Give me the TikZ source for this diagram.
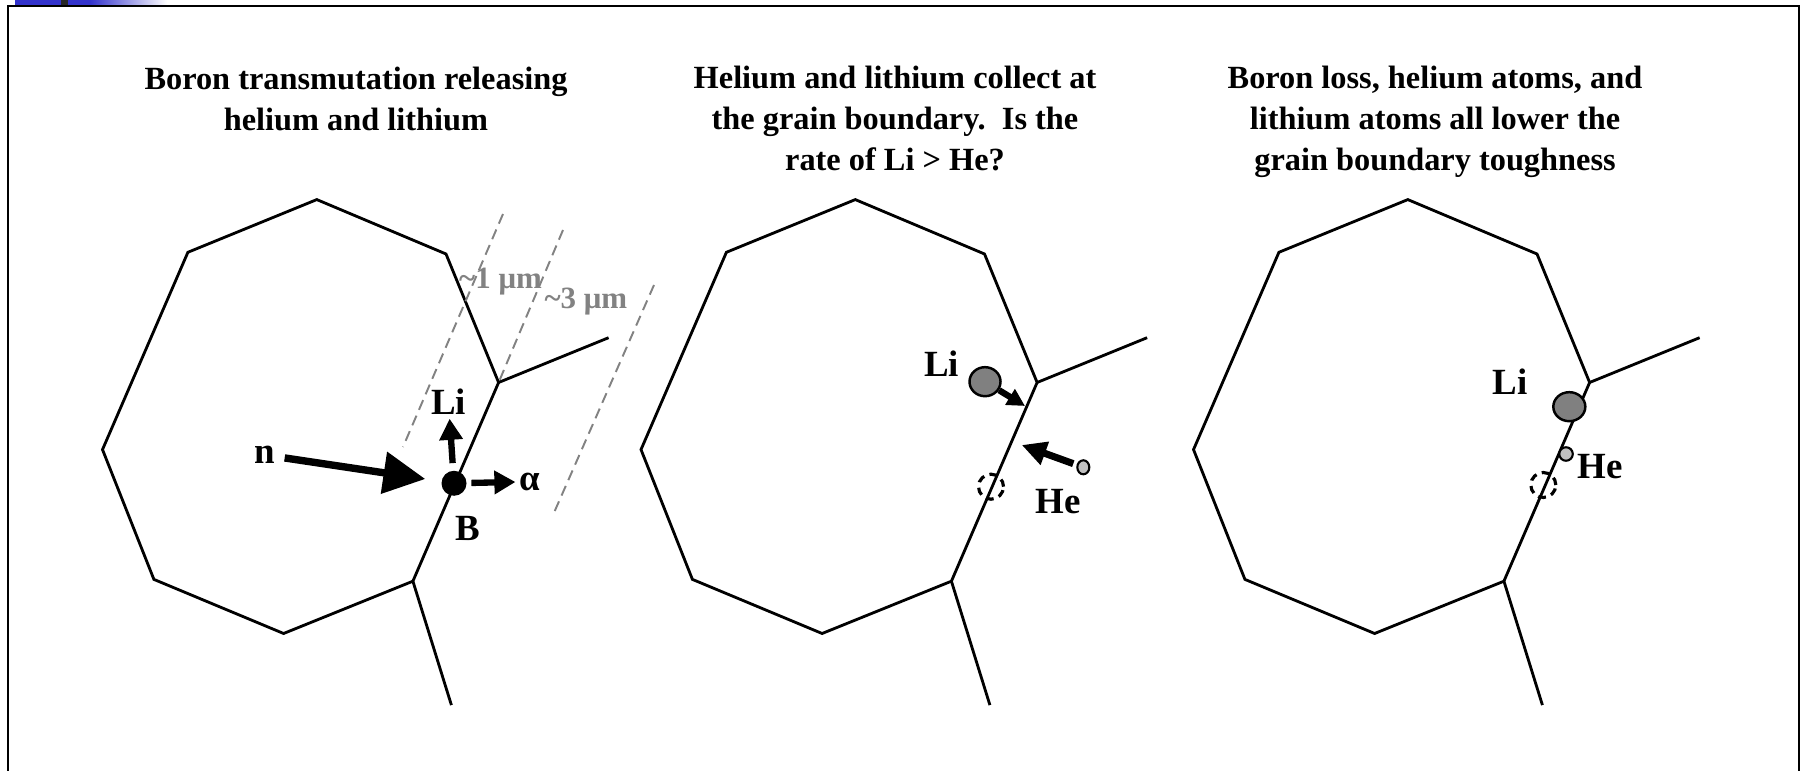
\documentclass[tikz,border=0pt]{standalone}
\usepackage{fontspec}
\setmainfont{Liberation Serif}
\usetikzlibrary{arrows.meta,shapes.geometric}
\definecolor{barblue}{RGB}{51,51,204}
\definecolor{dimline}{RGB}{130,130,130}
\definecolor{liatom}{RGB}{128,128,128}
\definecolor{heatom}{RGB}{192,192,192}

\begin{document}
\begin{tikzpicture}[x=0.01cm, y=-0.01cm,
    grain/.style={line width=0.8pt},
    zone/.style={draw=dimline, line width=0.55pt, dash pattern=on 3pt off 1.8pt},
    heading/.style={font=\fontsize{9.2}{11.7}\selectfont\bfseries, align=center, anchor=north, inner sep=0pt},
    lbl/.style={font=\fontsize{10.5}{12}\selectfont\bfseries, inner sep=0pt},
    zonelbl/.style={font=\fontsize{8.8}{10}\selectfont\bfseries, text=dimline, inner sep=0pt},
    boron/.style={circle, fill, minimum size=0.25cm, inner sep=0pt},
    liball/.style={ellipse, draw, line width=0.7pt, fill=liatom, minimum width=0.31cm, minimum height=0.29cm, inner sep=0pt},
    heball/.style={ellipse, draw, line width=0.6pt, fill=heatom, minimum width=0.12cm, minimum height=0.14cm, inner sep=0pt},
    vacancy/.style={circle, draw, line width=0.9pt, dash pattern=on 2.2pt off 1.6pt, minimum size=0.25cm, inner sep=0pt},
    bigarrow/.style={line width=2.1pt, -{Triangle[length=11.9pt, width=11.6pt]}},
    midarrow/.style={line width=1.8pt, -{Triangle[length=6pt, width=6.4pt]}},
    smallarrow/.style={line width=1.8pt, -{Triangle[length=5pt, width=5pt]}}]
\useasboundingbox (0,0) rectangle (1804,771);

\fill[barblue] (15,0) rectangle (90,5);
\shade[left color=barblue, right color=white] (90,0) rectangle (167,5);
\fill[black!85] (61,0) rectangle (68,5);
\draw[line width=0.7pt] (8,771) -- (8,6) -- (1799,6) -- (1799,771);

\node[heading] (title1) at (356,66) {Boron transmutation releasing\\helium and lithium};
\node[heading] (title2) at (895,65) {Helium and lithium collect at\\the grain boundary.\ \ Is the\\rate of Li > He?};
\node[heading] (title3) at (1435,65) {Boron loss, helium atoms, and\\lithium atoms all lower the\\grain boundary toughness};

% the same grain in each panel
\foreach \dx/\i in {0/a, 538.5/b, 1091/c}{
  \begin{scope}[shift={(\dx,0)}]
    \coordinate (tj\i) at (498.6,382.5);
    \coordinate (bj\i) at (412.9,581.2);
    \draw[grain] (316.8,199.6) -- (446,254) -- (tj\i) -- (bj\i) -- (283.6,633.5)
      -- (153.9,579.4) -- (102.5,449.6) -- (187.9,252.3) -- cycle;
    \draw[grain] (tj\i) -- (608.6,337.7);
    \draw[grain] (bj\i) -- (451.4,705.1);
  \end{scope}
}

\draw[zone] (503,214) -- (403,447);
\draw[zone] (563,230) -- (tja);
\draw[zone] (654,285) -- (553,515);
\node[zonelbl] (zone1) at (500.5,281.7) {\textasciitilde1 μm};
\node[zonelbl] (zone3) at (585.8,301.7) {\textasciitilde3 μm};

\node[boron] (bdot) at (454,483.3) {};
\node[lbl] (nlbl) at (265,455) {n};
\node[lbl] (lilbl) at (448.5,401.7) {Li};
\node[lbl] (alpha) at (530,481.7) {α};
\node[lbl] (blbl) at (468.3,528.3) {B};
\draw[bigarrow, shorten <=2.5pt, shorten >=4.5pt] (nlbl) -- (bdot);
\draw[midarrow, shorten <=2pt, shorten >=1pt] (bdot) -- (lilbl);
\draw[midarrow, shorten <=1.2pt, shorten >=1pt] (bdot) -- (alpha);

\node[liball] (li2) at (985,381.7) {};
\node[lbl] (li2lbl) at (941.7,363.3) {Li};
\coordinate (li2tip) at (1025,406);
\draw[smallarrow] (li2) -- (li2tip);
\node[heball] (he2) at (1083.3,467.3) {};
\node[lbl] (he2lbl) at (1058.3,501.7) {He};
\coordinate (he2tip) at (1021.7,445);
\draw[line width=2pt, -{Triangle[length=7pt, width=6.6pt]}, shorten <=1pt] (he2) -- (he2tip);
\node[vacancy] (vac2) at (991,486.7) {};

\node[liball, minimum width=0.32cm] (li3) at (1569.3,406.7) {};
\node[lbl] (li3lbl) at (1510,381.7) {Li};
\node[heball, minimum width=0.135cm, minimum height=0.135cm] (he3) at (1566,454) {};
\node[lbl] (he3lbl) at (1600,466.7) {He};
\node[vacancy] (vac3) at (1543.3,485) {};
\end{tikzpicture}
\end{document}
